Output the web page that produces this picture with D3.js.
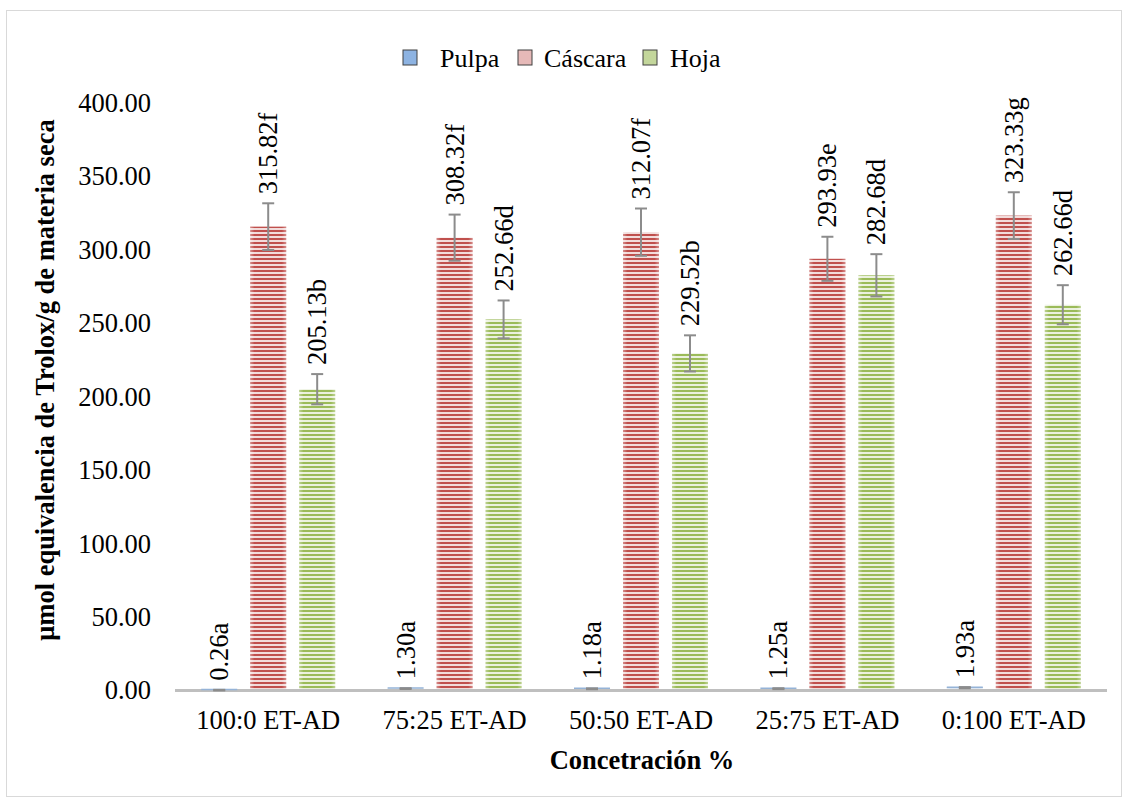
<!DOCTYPE html>
<html>
<head>
<meta charset="utf-8">
<script src="https://cdn.jsdelivr.net/npm/d3@7"></script>
<style>
  body { margin: 0; background: #fff; }
</style>
</head>
<body>
<div id="chart"></div>
<script>
const categories = ["100:0 ET-AD", "75:25 ET-AD", "50:50 ET-AD", "25:75 ET-AD", "0:100 ET-AD"];
const series = ["Pulpa", "Cáscara", "Hoja"];
const pulpa = [0.26, 1.30, 1.18, 1.25, 1.93];
const cascara = [315.82, 308.32, 312.07, 293.93, 323.33];
const hoja = [205.13, 252.66, 229.52, 282.68, 262.66];
const pulpaErr = [0.2, 0.3, 0.3, 0.3, 0.4];
const cascaraErr = [15.9, 15.7, 16.1, 15.0, 15.9];
const hojaErr = [10.3, 12.9, 12.3, 14.4, 13.3];
const pulpaLbl = ["0.26a", "1.30a", "1.18a", "1.25a", "1.93a"];
const cascaraLbl = ["315.82f", "308.32f", "312.07f", "293.93e", "323.33g"];
const hojaLbl = ["205.13b", "252.66d", "229.52b", "282.68d", "262.66d"];
const yTicks = [0, 50, 100, 150, 200, 250, 300, 350, 400];

const width = 1128, height = 803;
const FONT = "'Liberation Serif', 'Times New Roman', serif";
const FS = "26.5px";
const colors = {
  "Pulpa":   {dark: "#4F81BD", light: "#DCE6F2", legend: "#8DB3E2"},
  "Cáscara": {dark: "#C0504D", light: "#F2DCDB", legend: "#E6B9B8"},
  "Hoja":    {dark: "#9BBB59", light: "#EBF1DE", legend: "#C3D69B"}
};

const rows = [];
categories.forEach((c, i) => {
  rows.push({cat: c, s: "Pulpa", v: pulpa[i], e: pulpaErr[i], l: pulpaLbl[i]});
  rows.push({cat: c, s: "Cáscara", v: cascara[i], e: cascaraErr[i], l: cascaraLbl[i]});
  rows.push({cat: c, s: "Hoja", v: hoja[i], e: hojaErr[i], l: hojaLbl[i]});
});

const svg = d3.select("#chart").append("svg")
  .attr("width", width).attr("height", height)
  .attr("font-family", FONT);

svg.append("rect")
  .attr("x", 6.5).attr("y", 10.5).attr("width", 1115).attr("height", 786)
  .style("fill", "#fff").style("stroke", "#D9D9D9").style("stroke-width", 1);

const defs = svg.append("defs");
series.forEach((s, i) => {
  const p = defs.append("pattern")
    .attr("id", "pat" + i)
    .attr("patternUnits", "userSpaceOnUse")
    .attr("width", 8).attr("height", 4);
  p.append("rect").attr("width", 8).attr("height", 4).style("fill", colors[s].light);
  p.append("rect").attr("y", 2).attr("width", 8).attr("height", 2).style("fill", colors[s].dark);
});
const shade = defs.append("linearGradient").attr("id", "shade");
shade.append("stop").attr("offset", "0%").attr("stop-color", "#fff").attr("stop-opacity", 0.35);
shade.append("stop").attr("offset", "12%").attr("stop-color", "#fff").attr("stop-opacity", 0);
shade.append("stop").attr("offset", "88%").attr("stop-color", "#fff").attr("stop-opacity", 0);
shade.append("stop").attr("offset", "100%").attr("stop-color", "#fff").attr("stop-opacity", 0.35);

const x0 = d3.scaleBand().domain(categories).range([175, 1107]);
const x1 = d3.scaleBand().domain(series).range([0, x0.bandwidth()])
  .paddingInner(0.265).paddingOuter(0.535);
const y = d3.scaleLinear().domain([0, 400]).range([690.5, 103]);

// y axis labels
svg.append("g")
  .attr("transform", "translate(165,0)")
  .call(d3.axisLeft(y).tickValues(yTicks).tickFormat(d3.format(".2f")).tickSize(0).tickPadding(14))
  .attr("font-family", FONT)
  .call(g => g.select(".domain").remove())
  .selectAll("text")
  .style("font-size", FS)
  .style("font-family", FONT)
  .style("fill", "#000");

// bars
svg.selectAll("rect.bar")
  .data(rows)
  .enter()
  .append("rect")
  .attr("class", "bar")
  .attr("x", d => x0(d.cat) + x1(d.s))
  .attr("y", d => y(d.v))
  .attr("width", x1.bandwidth())
  .attr("height", d => y(0) - y(d.v))
  .style("fill", d => "url(#pat" + series.indexOf(d.s) + ")");
svg.selectAll("rect.shade")
  .data(rows)
  .enter()
  .append("rect")
  .attr("class", "shade")
  .attr("x", d => x0(d.cat) + x1(d.s))
  .attr("y", d => y(d.v))
  .attr("width", x1.bandwidth())
  .attr("height", d => y(0) - y(d.v))
  .style("fill", "url(#shade)");

// x axis line
svg.append("line")
  .attr("x1", 175).attr("x2", 1107)
  .attr("y1", y(0)).attr("y2", y(0))
  .style("stroke", "#BFBFBF").style("stroke-width", 3);

// pulpa bars sit on the baseline as a thin blue line
svg.selectAll("line.pulpa")
  .data(rows.filter(d => d.s === "Pulpa"))
  .enter()
  .append("line")
  .attr("x1", d => x0(d.cat) + x1(d.s))
  .attr("x2", d => x0(d.cat) + x1(d.s) + x1.bandwidth())
  .attr("y1", d => y(d.v) - 0.5).attr("y2", d => y(d.v) - 0.5)
  .style("stroke", "#95B3D7").style("stroke-width", 1.5);

// error bars
const eb = svg.selectAll("g.err")
  .data(rows)
  .enter()
  .append("g")
  .attr("transform", d => "translate(" + (x0(d.cat) + x1(d.s) + x1.bandwidth() / 2) + ",0)")
  .style("stroke", "#8C8C8C").style("stroke-width", 2);
eb.append("line").attr("y1", d => y(d.v + d.e)).attr("y2", d => y(d.v - d.e));
eb.append("line").attr("x1", -6).attr("x2", 6).attr("y1", d => y(d.v + d.e)).attr("y2", d => y(d.v + d.e));
eb.append("line").attr("x1", -6).attr("x2", 6).attr("y1", d => y(d.v - d.e)).attr("y2", d => y(d.v - d.e));

// value labels
svg.selectAll("text.lbl")
  .data(rows)
  .enter()
  .append("text")
  .attr("class", "lbl")
  .attr("transform", d => "translate(" + (x0(d.cat) + x1(d.s) + x1.bandwidth() / 2 + 9) + "," + (y(d.v + d.e) - 9) + ") rotate(-90)")
  .style("font-size", FS).style("font-family", FONT)
  .text(d => d.l);

// category labels
svg.selectAll("text.cat")
  .data(categories)
  .enter()
  .append("text")
  .attr("x", d => x0(d) + x0.bandwidth() / 2)
  .attr("y", 729)
  .attr("text-anchor", "middle")
  .style("font-size", FS).style("font-family", FONT)
  .text(d => d);

// axis titles
svg.append("text")
  .attr("x", 642).attr("y", 769)
  .attr("text-anchor", "middle")
  .style("font-size", FS).style("font-weight", "bold").style("font-family", FONT)
  .text("Concetración %");
svg.append("text")
  .attr("transform", "translate(54,380) rotate(-90)")
  .attr("text-anchor", "middle")
  .style("font-size", FS).style("font-weight", "bold").style("font-family", FONT)
  .text("μmol equivalencia de Trolox/g de materia seca");

// legend
const legX = [403, 518, 643], legTX = [440, 544, 670];
const leg = svg.selectAll("g.leg")
  .data(series)
  .enter()
  .append("g");
leg.append("rect")
  .attr("x", (d, i) => legX[i]).attr("y", 50)
  .attr("width", 14).attr("height", 15)
  .style("fill", d => colors[d].legend)
  .style("stroke", "#404040").style("stroke-width", 1);
leg.append("text")
  .attr("x", (d, i) => legTX[i]).attr("y", 67)
  .style("font-size", "26px").style("font-family", FONT)
  .text(d => d);
</script>
</body>
</html>
